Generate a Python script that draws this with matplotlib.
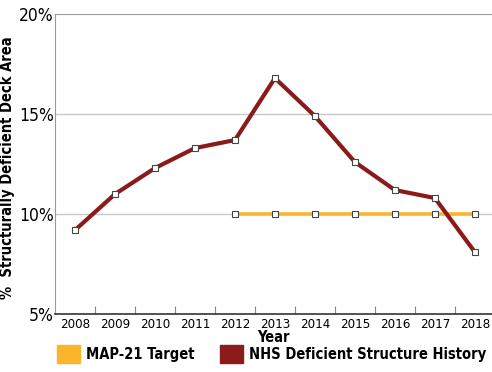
import matplotlib.pyplot as plt
from matplotlib.patches import Patch

years = [2008, 2009, 2010, 2011, 2012, 2013, 2014, 2015, 2016, 2017, 2018]
nhs_history = [9.2, 11.0, 12.3, 13.3, 13.7, 16.8, 14.9, 12.6, 11.2, 10.8, 8.1]
target_years = [2012, 2013, 2014, 2015, 2016, 2017, 2018]
map21_target = [10, 10, 10, 10, 10, 10, 10]
y_ticks = [5, 10, 15, 20]

red = "#8b1a1a"
orange = "#fbb52b"
plt.rcParams["font.family"] = "DejaVu Sans"
plt.rcParams["font.stretch"] = "condensed"

fig = plt.figure(figsize=(4.92, 3.72), dpi=100)
ax = fig.add_axes([0.112, 0.156, 0.888, 0.806])

for y in [10, 15]:
    ax.axhline(y, color="#c8c8c8", lw=1, zorder=0)

ax.plot(target_years, map21_target, color=orange, lw=2.6, zorder=2,
        marker="s", ms=5, mfc="white", mec="#444444", mew=0.8)
ax.plot(years, nhs_history, color=red, lw=3, zorder=3,
        marker="s", ms=5, mfc="white", mec="#444444", mew=0.8)

ax.set_xlim(2007.5, 2018.43)
ax.set_ylim(5, 20)
ax.set_yticks(y_ticks)
ax.set_yticklabels([f"{v}%" for v in y_ticks], fontsize=12.5)
ax.tick_params(axis="y", length=0, pad=1)

ax.set_xticks([y + 0.5 for y in years[:-1]])
ax.set_xticklabels([])
ax.set_xticks(years, minor=True)
ax.set_xticklabels([str(y) for y in years], minor=True, fontsize=9.5)
ax.tick_params(axis="x", which="major", direction="in", length=6, color="#888888")
ax.tick_params(axis="x", which="minor", length=0, pad=3)

for s in ["left", "top"]:
    ax.spines[s].set_color("#999999")
ax.spines["right"].set_visible(False)
ax.spines["bottom"].set_color("#333333")
ax.spines["bottom"].set_linewidth(1.2)

ax.set_xlabel("Year", fontsize=10.5, fontweight="bold", labelpad=-1)
ax.set_ylabel("%  Structurally Deficient Deck Area", fontsize=10.5, fontweight="bold")
ax.yaxis.set_label_coords(-0.092, 0.487)

legend_font = {"size": 10.5, "weight": "bold", "stretch": "condensed"}
leg1 = fig.legend(handles=[Patch(color=orange, label="MAP-21 Target")],
                  loc="lower left", bbox_to_anchor=(0.089, -0.012), frameon=False,
                  prop=legend_font, handlelength=1.6, handleheight=1.6, handletextpad=0.4)
leg2 = fig.legend(handles=[Patch(color=red, label="NHS Deficient Structure History")],
                  loc="lower left", bbox_to_anchor=(0.42, -0.012), frameon=False,
                  prop=legend_font, handlelength=1.6, handleheight=1.6, handletextpad=0.4)

fig.savefig("out.png", dpi=100)
